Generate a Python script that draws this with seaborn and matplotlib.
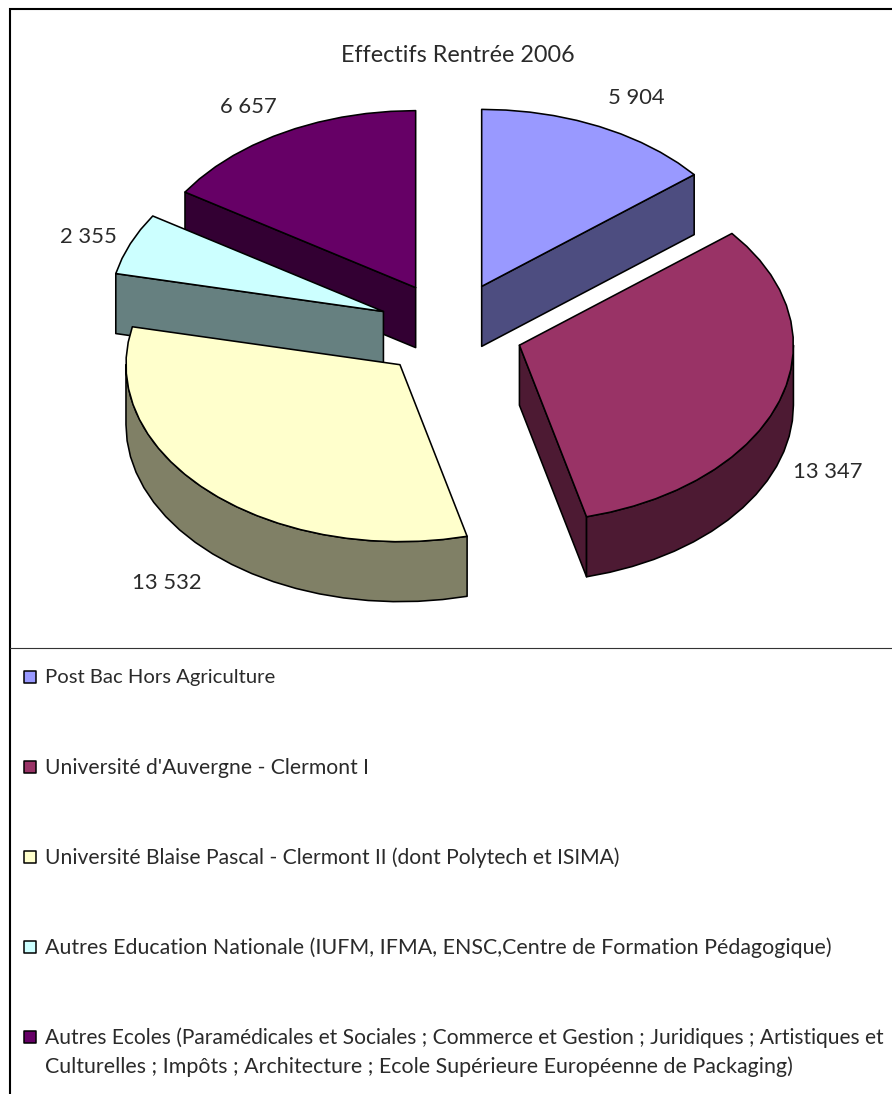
import numpy as np
import matplotlib
matplotlib.use('Agg')
import matplotlib.pyplot as plt
import matplotlib.colors as mcolors
import seaborn as sns

# donnees
titre = 'Effectifs Rentrée 2006'
effectifs = [5904, 13347, 13532, 2355, 6657]
etiquettes = ['5 904', '13 347', '13 532', '2 355', '6 657']
categories = [
    'Post Bac Hors Agriculture',
    "Université d'Auvergne - Clermont I",
    'Université Blaise Pascal - Clermont II (dont Polytech et ISIMA)',
    'Autres Education Nationale (IUFM, IFMA, ENSC,Centre de Formation Pédagogique)',
    'Autres Ecoles (Paramédicales et Sociales ; Commerce et Gestion ; Juridiques ; Artistiques et\n'
    'Culturelles ; Impôts ; Architecture ; Ecole Supérieure Européenne de Packaging)',
]
couleurs = ['#9999FF', '#993366', '#FFFFCC', '#CCFFFF', '#660066']

sns.set_style('white')
plt.rcParams['font.family'] = ['Lato', 'DejaVu Sans']
palette = sns.color_palette(couleurs)
sombres = [tuple(0.5 * c for c in mcolors.to_rgb(p)) for p in palette]
gris_texte = '#2a2a2a'

# geometrie du camembert en perspective (pixels)
cx, cy = 450.5, 330
rx, ry = 274, 177
prof = 60
explosion = 0.265
lw = 1.15

fig = plt.figure(figsize=(8.92, 10.94), dpi=100)
ax = fig.add_axes([0, 0, 1, 1])
ax.set_xlim(0, 892)
ax.set_ylim(1094, 0)
ax.axis('off')

parts = np.array(effectifs) / sum(effectifs) * 360
fins = np.cumsum(parts)
debuts = fins - parts


def bord(ox, oy, a, b):
    # arc a facettes comme dans l'original
    n = max(int((b - a) / 5), 2)
    t = np.radians(np.linspace(a, b, n + 1))
    return ox + rx * np.sin(t), oy - ry * np.cos(t)


# ordre de dessin : du fond vers l'avant
for i in [4, 3, 2, 0, 1]:
    a, b = debuts[i], fins[i]
    m = np.radians((a + b) / 2)
    ox = cx + explosion * rx * np.sin(m)
    oy = cy - explosion * ry * 1.03 * np.cos(m)
    # faces radiales visibles seulement
    faces = []
    if np.sin(np.radians(a)) < 0:
        faces.append(a)
    if np.sin(np.radians(b)) > 1e-6:
        faces.append(b)
    for ang in faces:
        x, y = bord(ox, oy, ang, ang + 1e-6)
        px = [ox, x[0], x[0], ox]
        py = [oy, y[0], y[0] + prof, oy + prof]
        ax.fill(px, py, facecolor=sombres[i], edgecolor='black', lw=lw, joinstyle='round')
    # flanc visible
    v0, v1 = max(a, 90), min(b, 270)
    if v1 > v0:
        x, y = bord(ox, oy, v0, v1)
        ax.fill(np.r_[x, x[::-1]], np.r_[y, y[::-1] + prof],
                facecolor=sombres[i], edgecolor='black', lw=lw, joinstyle='round')
    # dessus
    x, y = bord(ox, oy, a, b)
    ax.fill(np.r_[ox, x], np.r_[oy, y], facecolor=palette[i], edgecolor='black',
            lw=lw, joinstyle='round')

# cadre et separation legende
ax.plot([10, 10, 892], [1094, 9, 9], color='black', lw=1.5, solid_joinstyle='miter')
ax.plot([10, 892], [648, 648], color='#333333', lw=0.8)

ax.text(457.5, 56, titre, fontsize=16.8, ha='center', va='center', color=gris_texte)

pos_etiq = [(636, 98), (828, 472), (167, 583), (88, 237), (248, 107)]
for txt, (x, y) in zip(etiquettes, pos_etiq):
    ax.text(x, y, txt, fontsize=15.8, ha='center', va='center', color=gris_texte)

# legende
ys = [677, 767, 857, 947, 1037]
tailles = [14.6, 15.2, 15.2, 15.4, 15.15]
for cat, c, y, t in zip(categories, palette, ys, tailles):
    ax.scatter([30], [y], marker='s', s=72, facecolor=c, edgecolor='black', linewidths=1.1)
    lignes = cat.split('\n')
    ax.text(45, y + 1, lignes[0], fontsize=t, ha='left', va='center', color=gris_texte)
    if len(lignes) > 1:
        ax.text(45, y + 29.5, lignes[1], fontsize=15.4, ha='left', va='center', color=gris_texte)

fig.savefig('out.png', dpi=100)
